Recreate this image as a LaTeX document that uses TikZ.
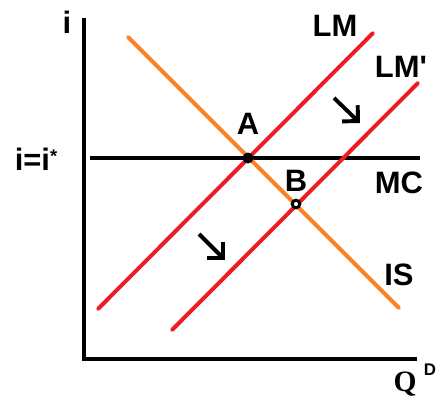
\documentclass[tikz,border=0pt]{standalone}
\usepackage{fontspec}
\setmainfont{Liberation Sans}
\newfontfamily\qfont{Liberation Serif}
\usetikzlibrary{arrows.meta}

\definecolor{paintred}{RGB}{237,28,36}
\definecolor{paintorange}{RGB}{255,127,39}

\begin{document}
\begin{tikzpicture}[x=0.025cm,y=-0.025cm,
  axis/.style={line width=3.2pt},
  curve/.style={line width=2.8pt,line cap=round},
  lbl/.style={font=\fontsize{22}{24}\selectfont\bfseries,inner sep=0pt},
  shiftarrow/.style={line width=2.8pt,-{Straight Barb[length=2.8mm,width=5.6mm]}}]
  \useasboundingbox (0,0) rectangle (436,397);
  % axes
  \coordinate (top) at (84,18);
  \coordinate (orig) at (84,359);
  \coordinate (right) at (417,359);
  \draw[axis] (top) -- (orig) -- (right);
  % interest rate line
  \coordinate (mcl) at (90,158);
  \coordinate (mcr) at (420,158);
  \draw[axis,line width=2.5pt] (mcl) -- (mcr);
  % IS, LM, LM'
  \coordinate (is1) at (128,37);
  \coordinate (is2) at (399,308);
  \coordinate (lm1) at (98,309);
  \coordinate (lm2) at (373,33);
  \coordinate (lmp1) at (172,330);
  \coordinate (lmp2) at (418,83);
  \draw[curve,paintorange] (is1) -- (is2);
  \draw[curve,paintred] (lm1) -- (lm2);
  \draw[curve,paintred] (lmp1) -- (lmp2);
  % equilibria
  \fill (248,158) circle (5.5) coordinate (A);
  \draw[line width=2.1pt,fill=white] (296,204) circle (3.8) coordinate (B);
  % shifts
  \coordinate (s1a) at (334,98);
  \coordinate (s1b) at (360,123);
  \coordinate (s2a) at (199,234);
  \coordinate (s2b) at (225,260);
  \draw[shiftarrow] (s1a) -- (s1b);
  \draw[shiftarrow] (s2a) -- (s2b);
  % labels
  \node[lbl] (li) at (67,22) {i};
  \node[lbl] (lii) at (36,159) {i=i\raisebox{0.45ex}{\fontsize{13}{14}\selectfont *}};
  \node[lbl] (lA) at (248,124) {A};
  \node[lbl] (lB) at (296,181) {B};
  \node[lbl] (lLM) at (335,26) {LM};
  \node[lbl] (lLMp) at (401,67) {LM\textquotesingle};
  \node[lbl] (lMC) at (399,183) {MC};
  \node[lbl] (lIS) at (399,275) {IS};
  \node[inner sep=0pt,anchor=base] (lQ) at (405,391) {\qfont\bfseries\fontsize{21}{22}\selectfont Q};
  \node[inner sep=0pt] (lD) at (430,370) {\fontsize{12}{13}\selectfont\bfseries D};
\end{tikzpicture}
\end{document}
